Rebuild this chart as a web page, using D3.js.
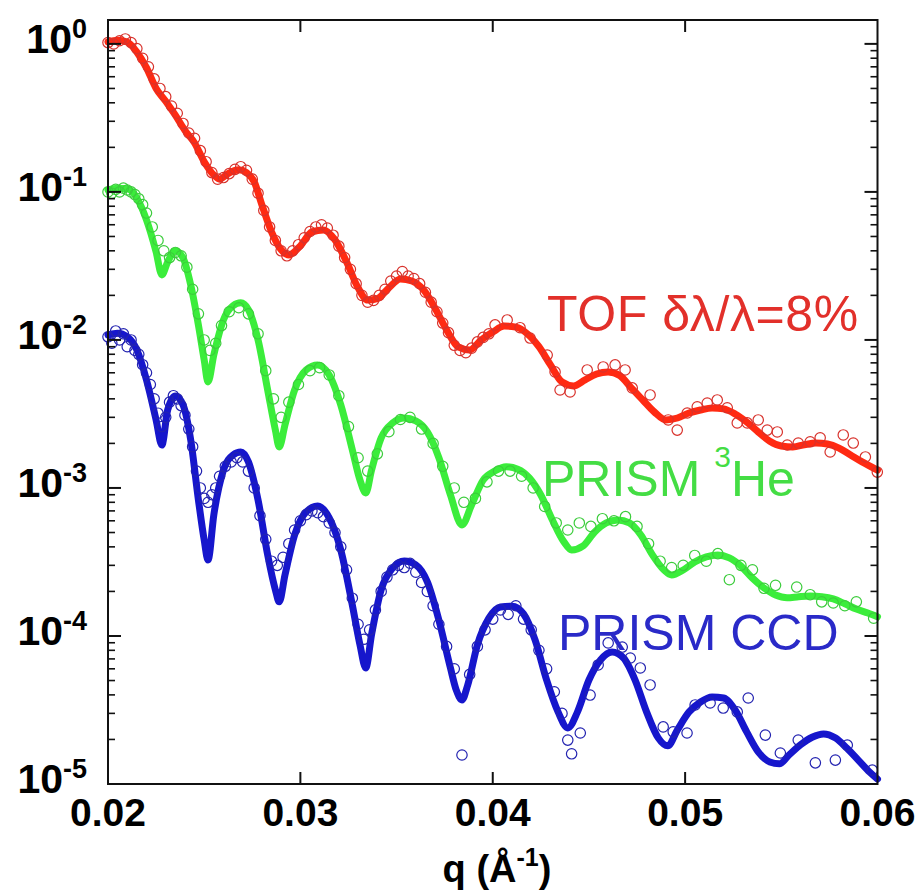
<!DOCTYPE html>
<html><head><meta charset="utf-8">
<script src="https://cdn.jsdelivr.net/npm/d3@7"></script>
<style>body{margin:0;background:#fff}svg{display:block}text{font-family:"Liberation Sans",Arial,sans-serif}</style>
</head><body><svg id="chart" width="923" height="891"></svg>
<script>
// ---- axis ticks ----
const qTicks = [0.02, 0.03, 0.04, 0.05, 0.06];
const yTickValues = [1, 1e-1, 1e-2, 1e-3, 1e-4, 1e-5];
const yTickExponents = ["0", "-1", "-2", "-3", "-4", "-5"];

// ---- series labels ----
const labelTOF = "TOF \u03b4\u03bb/\u03bb=8%";
const labelHe = ["PRISM ", "3", "He"];
const labelCCD = "PRISM CCD";

// ---- TOF (red) fit and data: [q, I] ----
const tofFit = [[0.0200,1.03],[0.0205,1.06],[0.0210,1.03],[0.0215,0.88],[0.0220,0.69],[0.0225,0.50],[0.0230,0.41],[0.0235,0.33],[0.0240,0.26],[0.0245,0.214],[0.0250,0.16],[0.0255,0.130],[0.0258,0.122],[0.0262,0.132],[0.0268,0.141],[0.0272,0.135],[0.0276,0.117],[0.0280,0.0817],[0.0285,0.0537],[0.0290,0.0406],[0.0294,0.0375],[0.0300,0.0432],[0.0306,0.0537],[0.0312,0.0554],[0.0318,0.0474],[0.0324,0.0337],[0.0330,0.0225],[0.0335,0.0186],[0.0340,0.019],[0.0346,0.0225],[0.0352,0.0258],[0.0358,0.0250],[0.0364,0.0218],[0.0370,0.0164],[0.0376,0.0117],[0.0382,0.00897],[0.0388,0.00855],[0.0394,0.0100],[0.0400,0.0113],[0.0406,0.0124],[0.0412,0.0122],[0.0418,0.0110],[0.0424,0.0090],[0.0430,0.00678],[0.0436,0.0052],[0.0442,0.00489],[0.0448,0.00537],[0.0454,0.00589],[0.0460,0.00608],[0.0466,0.00575],[0.0472,0.00474],[0.0478,0.00393],[0.0484,0.00326],[0.0490,0.00288],[0.0496,0.00297],[0.0502,0.00321],[0.0508,0.00336],[0.0514,0.00347],[0.0520,0.00342],[0.0526,0.00316],[0.0532,0.00279],[0.0538,0.00239],[0.0544,0.00207],[0.0550,0.00192],[0.0556,0.00189],[0.0562,0.00196],[0.0568,0.00201],[0.0574,0.00198],[0.0580,0.00186],[0.0586,0.00167],[0.0592,0.0015],[0.0600,0.00132]];
const tofData = [[0.0200,1.02],[0.0203,1.00],[0.0206,1.05],[0.0209,1.08],[0.0212,1.02],[0.0215,0.93],[0.0218,0.80],[0.0221,0.70],[0.0224,0.58],[0.0227,0.50],[0.0230,0.44],[0.0233,0.38],[0.0236,0.34],[0.0239,0.29],[0.0242,0.25],[0.0245,0.23],[0.0248,0.19],[0.0251,0.16],[0.0254,0.135],[0.0257,0.122],[0.0260,0.125],[0.0263,0.133],[0.0266,0.142],[0.0269,0.148],[0.0272,0.140],[0.0275,0.122],[0.0278,0.098],[0.0281,0.075],[0.0284,0.058],[0.0287,0.047],[0.0290,0.040],[0.0293,0.037],[0.0296,0.040],[0.0299,0.044],[0.0302,0.049],[0.0305,0.054],[0.0308,0.058],[0.0311,0.060],[0.0314,0.057],[0.0317,0.051],[0.0320,0.043],[0.0323,0.036],[0.0326,0.030],[0.0329,0.024],[0.0332,0.020],[0.0335,0.018],[0.0338,0.0185],[0.0341,0.020],[0.0344,0.022],[0.0347,0.025],[0.0350,0.027],[0.0353,0.029],[0.0356,0.027],[0.0359,0.026],[0.0362,0.024],[0.0365,0.021],[0.0368,0.018],[0.0371,0.0155],[0.0374,0.0130],[0.0377,0.0112],[0.0380,0.0092],[0.0383,0.0085],[0.0386,0.0082],[0.0389,0.0088],[0.0392,0.0097],[0.0395,0.0104],[0.0398,0.0110],[0.04012,0.01263],[0.04075,0.01365],[0.04142,0.0121],[0.04194,0.0103],[0.04283,0.0079],[0.04324,0.00608],[0.0435,0.00459],[0.04402,0.00445],[0.04491,0.00627],[0.04574,0.00657],[0.04636,0.00678],[0.04688,0.00627],[0.04725,0.00474],[0.04818,0.00425],[0.04912,0.00288],[0.04959,0.00246],[0.05011,0.00321],[0.05063,0.00353],[0.05115,0.00375],[0.05167,0.00393],[0.05219,0.00348],[0.05271,0.00275],[0.05323,0.00275],[0.0538,0.00288],[0.05427,0.00246],[0.05479,0.00239],[0.05531,0.00195],[0.05588,0.00201],[0.0565,0.00205],[0.05702,0.00218],[0.05754,0.00175],[0.05822,0.00228],[0.05874,0.00201],[0.05937,0.00162],[0.05999,0.00128]];

// ---- PRISM 3He (green) fit and data ----
const heFit = [[0.0200,0.103],[0.0205,0.106],[0.0210,0.105],[0.0215,0.091],[0.0220,0.0647],[0.0225,0.0393],[0.0228,0.0275],[0.0231,0.0336],[0.0235,0.040],[0.0239,0.0358],[0.0243,0.0235],[0.0247,0.0126],[0.0250,0.00733],[0.0252,0.0052],[0.0255,0.00792],[0.0260,0.01365],[0.0265,0.0170],[0.0269,0.0178],[0.0273,0.016],[0.0278,0.0100],[0.0283,0.00459],[0.0287,0.00246],[0.0289,0.00189],[0.0292,0.00267],[0.0297,0.00459],[0.0303,0.00627],[0.0309,0.00678],[0.0315,0.0058],[0.0321,0.00364],[0.0327,0.00181],[0.0331,0.00113],[0.0334,0.000925],[0.0337,0.00132],[0.0342,0.00218],[0.0348,0.00275],[0.0354,0.00297],[0.0360,0.00284],[0.0366,0.00239],[0.0372,0.0016],[0.0378,0.000897],[0.0384,0.000562],[0.0389,0.000768],[0.0395,0.00113],[0.0401,0.0013],[0.0407,0.00139],[0.0413,0.00134],[0.0419,0.00117],[0.0425,0.000897],[0.0431,0.000608],[0.0437,0.000432],[0.0441,0.000381],[0.0447,0.000406],[0.0453,0.000504],[0.0459,0.00058],[0.0465,0.000608],[0.0471,0.00058],[0.0477,0.000481],[0.0483,0.000353],[0.0489,0.000279],[0.0493,0.000258],[0.0499,0.000279],[0.0505,0.000316],[0.0511,0.000342],[0.0517,0.000353],[0.0523,0.000337],[0.0529,0.000297],[0.0535,0.000246],[0.0541,0.000211],[0.0547,0.000189],[0.0553,0.000181],[0.0559,0.000184],[0.0565,0.000186],[0.0571,0.000184],[0.0577,0.000178],[0.0583,0.000165],[0.0589,0.000152],[0.0595,0.000143],[0.0600,0.000135]];
const heData = [[0.0200,0.100],[0.0202,0.098],[0.0204,0.104],[0.0206,0.100],[0.0208,0.106],[0.0210,0.103],[0.0212,0.100],[0.0214,0.096],[0.0216,0.090],[0.0218,0.082],[0.0220,0.072],[0.0223,0.058],[0.0226,0.047],[0.0229,0.040],[0.0232,0.036],[0.0235,0.039],[0.0238,0.037],[0.0241,0.031],[0.0244,0.022],[0.0247,0.015],[0.0250,0.0100],[0.0253,0.0085],[0.0256,0.0095],[0.0259,0.0125],[0.0263,0.0155],[0.0268,0.0165],[0.0273,0.0150],[0.0278,0.0110],[0.0282,0.0062],[0.0286,0.0040],[0.0290,0.0030],[0.0294,0.0038],[0.0299,0.0050],[0.0305,0.0062],[0.0310,0.0065],[0.0315,0.0058],[0.0320,0.0042],[0.0325,0.0026],[0.0330,0.0016],[0.0335,0.0013],[0.0340,0.0017],[0.0346,0.0024],[0.0352,0.0029],[0.0357,0.0030],[0.0363,0.0025],[0.0369,0.0020],[0.0374,0.0014],[0.0380,0.0010],[0.0385,0.0008],[0.0391,0.00085],[0.0397,0.0011],[0.0403,0.0013],[0.0409,0.0013],[0.0415,0.0012],[0.0421,0.0010],[0.0427,0.00075],[0.0433,0.00058],[0.0439,0.00052],[0.0445,0.00058],[0.0451,0.00055],[0.0457,0.00062],[0.0463,0.00060],[0.0469,0.00064],[0.0475,0.00055],[0.0481,0.00042],[0.0487,0.00032],[0.0493,0.00029],[0.0499,0.00030],[0.0505,0.00035],[0.0511,0.00032],[0.0517,0.00036],[0.0523,0.00024],[0.0529,0.00030],[0.0535,0.00028],[0.0541,0.00021],[0.0547,0.00022],[0.0558,0.000214],[0.0565,0.00019],[0.0571,0.00017],[0.0577,0.000167],[0.0583,0.00016],[0.0589,0.00017],[0.0598,0.000132]];

// ---- PRISM CCD (blue) fit and data ----
const ccdFit = [[0.0200,0.0108],[0.0205,0.0111],[0.0210,0.0105],[0.0215,0.00856],[0.0220,0.00537],[0.0225,0.00288],[0.0228,0.00195],[0.0231,0.00336],[0.0235,0.00418],[0.0239,0.00364],[0.0243,0.00211],[0.0247,0.00083],[0.0250,0.000445],[0.0252,0.000326],[0.0255,0.000657],[0.0260,0.00132],[0.0265,0.00167],[0.0269,0.00175],[0.0273,0.0015],[0.0278,0.00083],[0.0283,0.000353],[0.0287,0.000205],[0.0289,0.00017],[0.0292,0.000258],[0.0297,0.000481],[0.0303,0.000689],[0.0309,0.000756],[0.0315,0.000627],[0.0321,0.000381],[0.0327,0.000162],[0.0331,0.000087],[0.0334,0.0000608],[0.0337,0.000102],[0.0342,0.000205],[0.0348,0.000288],[0.0354,0.000321],[0.0360,0.000302],[0.0366,0.000232],[0.0372,0.000128],[0.0378,0.0000608],[0.0381,0.0000432],[0.0384,0.000037],[0.0387,0.0000467],[0.0392,0.000087],[0.0398,0.000132],[0.0404,0.000157],[0.0410,0.000159],[0.0416,0.000141],[0.0422,0.000094],[0.0428,0.0000504],[0.0434,0.0000306],[0.0439,0.0000239],[0.0444,0.0000306],[0.0450,0.0000504],[0.0456,0.0000689],[0.0462,0.000078],[0.0468,0.000071],[0.0474,0.0000504],[0.0480,0.0000306],[0.0486,0.0000205],[0.0491,0.0000181],[0.0496,0.0000232],[0.0502,0.0000306],[0.0508,0.0000358],[0.0514,0.0000387],[0.0520,0.0000381],[0.0526,0.0000316],[0.0532,0.0000225],[0.0538,0.0000165],[0.0544,0.0000141],[0.0549,0.0000137],[0.0554,0.0000157],[0.0560,0.0000184],[0.0566,0.0000207],[0.0572,0.0000218],[0.0578,0.0000205],[0.0584,0.0000175],[0.0590,0.0000145],[0.0596,0.000012],[0.0600,0.0000108]];
const ccdData = [[0.0200,0.0105],[0.0202,0.0095],[0.0204,0.0115],[0.0206,0.0100],[0.0208,0.0110],[0.0210,0.0090],[0.0212,0.0100],[0.0214,0.0085],[0.0216,0.0080],[0.0218,0.0068],[0.0220,0.0060],[0.0222,0.0050],[0.0224,0.0040],[0.0226,0.0032],[0.0228,0.0026],[0.0230,0.0030],[0.0232,0.0038],[0.0234,0.0042],[0.0236,0.0040],[0.0238,0.0036],[0.0240,0.0031],[0.0242,0.0025],[0.0244,0.0019],[0.0246,0.0013],[0.0248,0.0010],[0.0250,0.00085],[0.0252,0.0008],[0.0254,0.0009],[0.0256,0.0010],[0.0258,0.0012],[0.0261,0.0014],[0.0264,0.0015],[0.0267,0.0016],[0.0270,0.0015],[0.0273,0.0013],[0.0276,0.0010],[0.0279,0.00065],[0.0282,0.00045],[0.0285,0.00032],[0.0288,0.00030],[0.0291,0.00034],[0.0294,0.00042],[0.0297,0.00052],[0.0300,0.00060],[0.0303,0.00066],[0.0306,0.00070],[0.0309,0.00068],[0.0312,0.00064],[0.0315,0.00058],[0.0318,0.00050],[0.0321,0.00040],[0.0324,0.00028],[0.0327,0.00018],[0.0330,0.00012],[0.0333,0.000095],[0.0336,0.00011],[0.0339,0.00015],[0.0342,0.00020],[0.0345,0.00025],[0.0348,0.00028],[0.0351,0.00030],[0.0354,0.00029],[0.0357,0.00031],[0.0360,0.00027],[0.0363,0.00023],[0.0366,0.00020],[0.0369,0.00016],[0.0372,0.00012],[0.0376,0.000085],[0.0380,0.000060],[0.0384,0.0000157],[0.0388,0.000055],[0.0392,0.000085],[0.0396,0.00011],[0.0400,0.00013],[0.0404,0.00015],[0.0408,0.00014],[0.0412,0.00016],[0.0416,0.00013],[0.0420,0.00011],[0.0424,0.000080],[0.0428,0.000060],[0.0432,0.000042],[0.0436,0.000030],[0.0439,0.0000198],[0.0441,0.000016],[0.04455,2.21e-5],[0.04506,3.99e-5],[0.04548,6.37e-5],[0.0460,8.98e-5],[0.04673,8.42e-5],[0.04715,7.1e-5],[0.04767,6.08e-5],[0.04818,4.67e-5],[0.04886,2.43e-5],[0.04938,2.25e-5],[0.0501,2.21e-5],[0.05052,3.42e-5],[0.0513,3.53e-5],[0.05198,3.26e-5],[0.05271,3.07e-5],[0.05328,3.81e-5],[0.05417,2.14e-5],[0.05495,1.62e-5],[0.05588,1.98e-5],[0.05677,1.39e-5],[0.05781,1.45e-5],[0.05843,1.83e-5],[0.05973,1.24e-5]];

// ---- drawing ----
const svg = d3.select("#chart");
const W = 923, H = 891;
svg.append("rect").attr("width", W).attr("height", H).attr("fill", "#fff");

const x = d3.scaleLinear().domain([0.02, 0.06]).range([108, 877.5]);
const y = d3.scaleLog().domain([1e-5, 1.45]).range([784, 20]);
const [x0, x1] = x.range();
const [yb, yt] = y.range();

const series = [
  {fit: tofFit, data: tofData, line: "#ff2a12", dot: "#d8322c"},
  {fit: heFit, data: heData, line: "#3bed3b", dot: "#3ccc3c"},
  {fit: ccdFit, data: ccdData, line: "#1616cc", dot: "#2323b0"}
];

const line = d3.line().x(d => x(d[0])).y(d => y(d[1])).curve(d3.curveMonotoneX);
const plot = svg.append("g");
series.forEach(s => {
  plot.append("path").datum(s.fit).attr("d", line)
    .attr("fill", "none").attr("stroke", s.line).attr("stroke-width", 7)
    .attr("stroke-linejoin", "round").attr("stroke-linecap", "round");
});
series.forEach(s => {
  plot.append("g").selectAll("circle").data(s.data).join("circle")
    .attr("cx", d => x(d[0])).attr("cy", d => y(d[1])).attr("r", 5.2)
    .attr("fill", "none").attr("stroke", s.dot).attr("stroke-width", 1.2);
});

// frame
const axisG = svg.append("g").attr("stroke", "#111").attr("stroke-width", 2);
axisG.append("rect").attr("x", x0).attr("y", yt).attr("width", x1 - x0).attr("height", yb - yt).attr("fill", "none");

// x ticks (inside, bottom and top)
qTicks.slice(1, -1).forEach(q => {
  axisG.append("line").attr("x1", x(q)).attr("x2", x(q)).attr("y1", yb).attr("y2", yb - 12);
  axisG.append("line").attr("x1", x(q)).attr("x2", x(q)).attr("y1", yt).attr("y2", yt + 12);
});
// y ticks major + minor (inside, left and right)
const minor = [];
for (let e = -5; e <= 0; e++) for (let m = 2; m <= 9; m++) { const v = m * Math.pow(10, e); if (v < 1.45) minor.push(v); }
yTickValues.forEach(v => {
  axisG.append("line").attr("x1", x0).attr("x2", x0 + 13).attr("y1", y(v)).attr("y2", y(v));
  axisG.append("line").attr("x1", x1).attr("x2", x1 - 13).attr("y1", y(v)).attr("y2", y(v));
});
minor.forEach(v => {
  axisG.append("line").attr("x1", x0).attr("x2", x0 + 7).attr("y1", y(v)).attr("y2", y(v)).attr("stroke-width", 1.6);
  axisG.append("line").attr("x1", x1).attr("x2", x1 - 7).attr("y1", y(v)).attr("y2", y(v)).attr("stroke-width", 1.6);
});

// tick labels
const fmt = d3.format(".2f");
svg.append("g").selectAll("text").data(qTicks).join("text")
  .attr("x", d => x(d)).attr("y", 826).attr("text-anchor", "middle")
  .attr("font-size", 39).attr("font-weight", "bold").attr("fill", "#000").text(d => fmt(d));

yTickValues.forEach((v, i) => {
  const t = svg.append("text").attr("x", 87).attr("y", y(v) + 9).attr("text-anchor", "end")
    .attr("font-weight", "bold").attr("fill", "#000").attr("font-size", 41);
  t.append("tspan").text("10");
  t.append("tspan").attr("font-size", 27).attr("dy", -15).text(yTickExponents[i]);
});

// x title
const xt = svg.append("text").attr("x", 497).attr("y", 882).attr("text-anchor", "middle")
  .attr("font-weight", "bold").attr("font-size", 38).attr("fill", "#000");
xt.append("tspan").text("q (\u00c5");
xt.append("tspan").attr("font-size", 25).attr("dy", -16).text("-1");
xt.append("tspan").attr("dy", 16).text(")");

// series labels
svg.append("text").attr("x", 547).attr("y", 331).attr("font-size", 50).attr("letter-spacing", 0.6).attr("fill", "#e2302a").text(labelTOF);
const he = svg.append("text").attr("x", 542).attr("y", 496).attr("font-size", 50).attr("fill", "#44dd44");
he.append("tspan").text(labelHe[0]);
he.append("tspan").attr("font-size", 30).attr("dy", -29).text(labelHe[1]);
he.append("tspan").attr("dy", 29).text(labelHe[2]);
svg.append("text").attr("x", 558).attr("y", 650).attr("font-size", 50).attr("fill", "#2a2ac8").text(labelCCD);
</script></body></html>
